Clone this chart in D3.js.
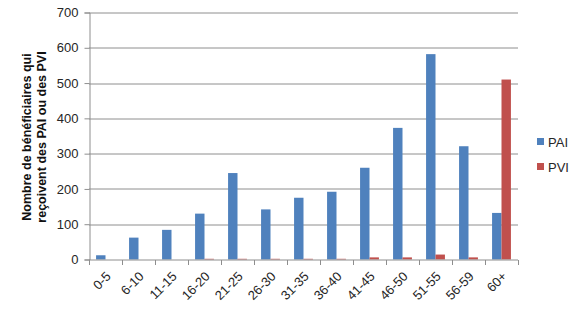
<!DOCTYPE html>
<html>
<head>
<meta charset="UTF-8" />
<title>PAI / PVI par tranche d'âge</title>
<script src="https://d3js.org/d3.v7.min.js"></script>
<style>
	body { margin: 0; background: #fff; }
	svg { display: block; font-family: "Liberation Sans", Arial, sans-serif; }
</style>
</head>
<body>
<div id="chart"></div>
<script type="text/javascript">

	// Data
	var categories = ["0-5", "6-10", "11-15", "16-20", "21-25", "26-30", "31-35", "36-40", "41-45", "46-50", "51-55", "56-59", "60+"];
	var pai = [12, 62, 84, 130, 245, 142, 175, 192, 260, 373, 582, 321, 132];
	var pvi = [0, 0, 0, 2, 2, 2, 2, 2, 6, 6, 14, 6, 510];
	var seriesNames = ["PAI", "PVI"];
	var yTicks = [0, 100, 200, 300, 400, 500, 600, 700];

	var colors = {PAI: "#4f81bd", PVI: "#c0504d"};

	var width = 581, height = 309;
	var margin = {top: 12.5, right: 63, bottom: 50, left: 89};
	var plotW = width - margin.left - margin.right,
		plotH = 259.5 - margin.top;

	var svg = d3.select("#chart")
		.append("svg")
			.attr("width", width)
			.attr("height", height);

	var g = svg.append("g")
		.attr("transform", "translate(" + margin.left + "," + margin.top + ")");

	// scales
	var x0 = d3.scaleBand()
		.domain(categories)
		.range([0, plotW])
		.paddingInner(1.5 / 3.5)
		.paddingOuter(0.75 / 3.5);
	var x1 = d3.scaleBand()
		.domain(seriesNames)
		.range([0, x0.bandwidth()]);
	var y = d3.scaleLinear()
		.domain([0, 700])
		.range([plotH, 0]);

	// gridlines
	g.append("g")
		.selectAll("line")
		.data(yTicks.slice(1))
		.enter()
		.append("line")
			.attr("x1", 0)
			.attr("x2", plotW)
			.attr("y1", function(d) { return Math.round(y(d)) + 0.5; })
			.attr("y2", function(d) { return Math.round(y(d)) + 0.5; })
			.attr("stroke", "#8e8e8e")
			.attr("stroke-width", 1);

	// bars
	var rows = categories.map(function(c, i) { return {cat: c, PAI: pai[i], PVI: pvi[i]}; });
	g.append("g")
		.selectAll("g")
		.data(rows)
		.enter()
		.append("g")
			.attr("transform", function(d) { return "translate(" + x0(d.cat) + ",0)"; })
		.selectAll("rect")
		.data(function(d) { return seriesNames.map(function(s) { return {key: s, value: d[s]}; }); })
		.enter()
		.append("rect")
			.attr("x", function(d) { return x1(d.key); })
			.attr("y", function(d) { return y(d.value); })
			.attr("width", x1.bandwidth())
			.attr("height", function(d) { return plotH - y(d.value); })
			.attr("fill", function(d) { return colors[d.key]; });

	// y axis
	var yAxis = g.append("g")
		.attr("transform", "translate(0.5,0)")
		.call(d3.axisLeft(y).tickValues(yTicks).tickSize(5).tickPadding(6));
	yAxis.selectAll("line, path").attr("stroke", "#8e8e8e");
	yAxis.selectAll("text")
		.attr("fill", "#262626")
		.style("font-size", "13px")
		.style("font-family", "'Liberation Sans', Arial, sans-serif");

	// x axis, ticks on category boundaries
	var xAxis = g.append("g")
		.attr("transform", "translate(0," + (Math.round(plotH) + 0.5) + ")");
	xAxis.append("line")
		.attr("x1", 0)
		.attr("x2", plotW)
		.attr("stroke", "#8e8e8e");
	var step = x0.step();
	xAxis.selectAll("line.tk")
		.data(d3.range(categories.length + 1))
		.enter()
		.append("line")
			.attr("class", "tk")
			.attr("x1", function(i) { return Math.round(i * step) + 0.5; })
			.attr("x2", function(i) { return Math.round(i * step) + 0.5; })
			.attr("y1", 0)
			.attr("y2", 5)
			.attr("stroke", "#8e8e8e");
	xAxis.selectAll("text")
		.data(categories)
		.enter()
		.append("text")
			.attr("transform", function(d) {
				return "translate(" + (x0(d) + x0.bandwidth() / 2 + 3) + ",14)rotate(-45)";
			})
			.attr("text-anchor", "end")
			.attr("dy", "0.35em")
			.attr("fill", "#262626")
			.style("font-size", "13px")
			.text(function(d) { return d; });

	// y axis title
	var title = svg.append("text")
		.attr("transform", "translate(27,137)rotate(-90)")
		.attr("text-anchor", "middle")
		.style("font-weight", "bold")
		.style("font-size", "12.5px")
		.attr("fill", "#111");
	title.append("tspan").attr("x", 0).attr("dy", "0.35em").text("Nombre de bénéficiaires qui");
	title.append("tspan").attr("x", 0).attr("dy", "15px").text("reçoivent des PAI ou des PVI");

	// legend
	var legend = svg.append("g")
		.selectAll("g")
		.data(seriesNames)
		.enter()
		.append("g")
			.attr("transform", function(d, i) { return "translate(537," + (138 + i * 25) + ")"; });
	legend.append("rect")
		.attr("width", 7)
		.attr("height", 7)
		.attr("fill", function(d) { return colors[d]; });
	legend.append("text")
		.attr("x", 11)
		.attr("y", 4)
		.attr("dy", "0.35em")
		.attr("fill", "#262626")
		.style("font-size", "13px")
		.text(function(d) { return d; });
</script>
</body>
</html>
